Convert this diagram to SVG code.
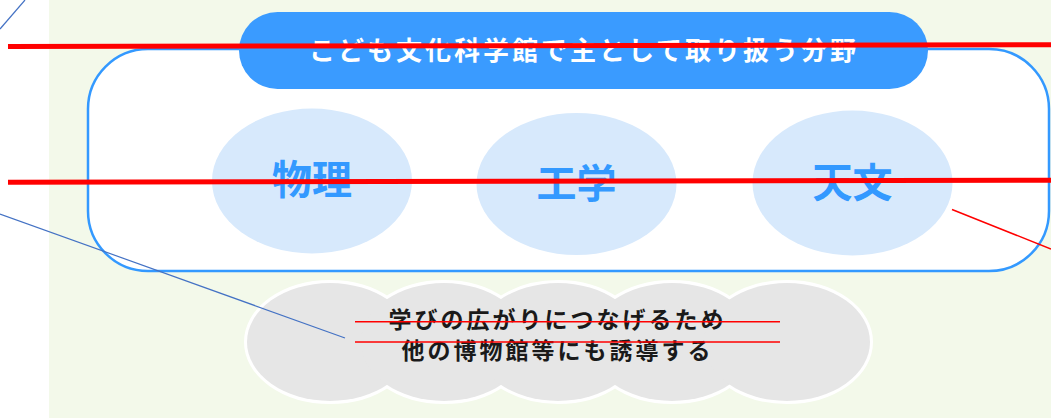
<svg xmlns="http://www.w3.org/2000/svg" width="1051" height="418" viewBox="0 0 1051 418">
  <style>
    .jp { font-family: "Noto Sans CJK JP", "Noto Sans", sans-serif; font-weight: bold; }
    .field { fill: #D7E9FC; }
    .fieldText { fill: #3399FF; font-size: 40px; text-anchor: middle; }
    .cloudOut { fill: #FFFFFF; stroke: #FFFFFF; stroke-width: 6; }
    .cloudIn { fill: #E6E6E6; }
    .red { stroke: #FF0000; fill: none; }
  </style>
  <rect x="0" y="0" width="1051" height="418" fill="#FFFFFF"/>
  <rect id="background" x="49" y="0" width="1002" height="418" fill="#F3F9EA"/>

  <g id="frame">
    <rect x="88" y="49" width="961" height="222" rx="60" ry="60" fill="#FFFFFF" stroke="#3399FF" stroke-width="2.5"/>
  </g>

  <g id="title">
    <rect x="239" y="12" width="689" height="77" rx="38.5" ry="38.5" fill="#3A9BFF"/>
    <text class="jp" x="584" y="60" font-size="26" fill="#FFFFFF" text-anchor="middle" letter-spacing="3">こども文化科学館で主として取り扱う分野</text>
  </g>

  <g id="node-physics">
    <ellipse class="field" cx="312" cy="181" rx="100" ry="72.5"/>
    <text class="jp fieldText" x="312" y="194">物理</text>
  </g>
  <g id="node-engineering">
    <ellipse class="field" cx="576.5" cy="184" rx="100" ry="71"/>
    <text class="jp fieldText" x="576.5" y="198">工学</text>
  </g>
  <g id="node-astronomy">
    <ellipse class="field" cx="852.5" cy="183" rx="100" ry="72.5"/>
    <text class="jp fieldText" x="852.5" y="197">天文</text>
  </g>

  <g id="node-cloud">
    <ellipse class="cloudOut" cx="330" cy="342" rx="83" ry="59"/>
    <ellipse class="cloudOut" cx="444" cy="342" rx="83" ry="59"/>
    <ellipse class="cloudOut" cx="558" cy="342" rx="83" ry="59"/>
    <ellipse class="cloudOut" cx="672" cy="342" rx="83" ry="59"/>
    <ellipse class="cloudOut" cx="787" cy="342" rx="83" ry="59"/>
    <ellipse class="cloudIn" cx="330" cy="342" rx="83" ry="59"/>
    <ellipse class="cloudIn" cx="444" cy="342" rx="83" ry="59"/>
    <ellipse class="cloudIn" cx="558" cy="342" rx="83" ry="59"/>
    <ellipse class="cloudIn" cx="672" cy="342" rx="83" ry="59"/>
    <ellipse class="cloudIn" cx="787" cy="342" rx="83" ry="59"/>
    <text class="jp" x="557.5" y="328" font-size="23" fill="#1A1A1A" text-anchor="middle" letter-spacing="3">学びの広がりにつなげるため</text>
    <text class="jp" x="557.5" y="359" font-size="23" fill="#1A1A1A" text-anchor="middle" letter-spacing="3">他の博物館等にも誘導する</text>
  </g>

  <g id="connectors">
    <line x1="0" y1="29" x2="25" y2="0" stroke="#4472C4" stroke-width="1.2"/>
    <line x1="0" y1="214" x2="345" y2="338" stroke="#4472C4" stroke-width="1.2"/>
    <line class="red" x1="8" y1="46.5" x2="1051" y2="44.7" stroke-width="5"/>
    <line class="red" x1="8" y1="182.3" x2="1051" y2="180.3" stroke-width="5"/>
    <line class="red" x1="952" y1="209.5" x2="1051" y2="249" stroke-width="1.5"/>
    <line class="red" x1="355" y1="321.7" x2="780" y2="321.7" stroke-width="1.5"/>
    <line class="red" x1="355" y1="342" x2="780" y2="342" stroke-width="1.5"/>
  </g>
</svg>
